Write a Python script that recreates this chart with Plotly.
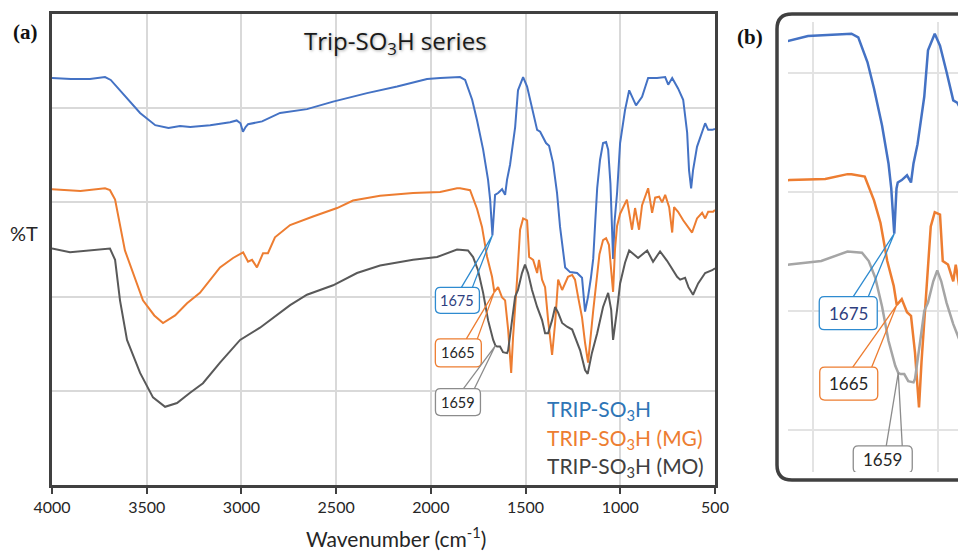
import numpy as np
import plotly.graph_objects as go

W, H = 958, 552

# ---- FTIR spectra (wavenumber in cm-1, transmittance in arbitrary offset units) ----
trip_wn = [4000, 3900, 3800, 3720, 3690, 3640, 3590, 3535, 3455, 3385, 3324, 3270, 3165, 3060,
           3025, 3005, 2992, 2978, 2965, 2891, 2796, 2654, 2516, 2337, 2178, 2020, 1951, 1862,
           1846, 1819, 1782, 1756, 1724, 1698, 1687, 1675, 1666, 1661, 1645, 1624, 1608, 1598,
           1582, 1555, 1540, 1513, 1492, 1466, 1439, 1423, 1392, 1376, 1355, 1334, 1318, 1291,
           1265, 1228, 1202, 1186, 1170, 1155, 1143, 1132, 1122, 1107, 1091, 1075, 1064, 1052,
           1043, 1038, 1030, 1017, 1001, 985, 975, 953, 938, 917, 885, 853, 806, 763,
           747, 726, 695, 668, 647, 637, 626, 616, 595, 568, 552, 536, 515, 500]
trip_t = [4.32, 4.31, 4.31, 4.33, 4.30, 4.19, 4.07, 3.95, 3.82, 3.79, 3.81, 3.80, 3.82, 3.85,
          3.87, 3.84, 3.75, 3.80, 3.83, 3.86, 3.95, 3.99, 4.07, 4.16, 4.23, 4.31, 4.32, 4.33,
          4.33, 4.30, 4.09, 3.87, 3.56, 3.24, 3.03, 2.65, 3.03, 3.08, 3.10, 3.14, 3.08, 3.24,
          3.40, 3.80, 4.19, 4.33, 4.23, 4.01, 3.77, 3.75, 3.63, 3.60, 3.42, 3.10, 2.74, 2.31,
          2.26, 2.25, 2.20, 1.84, 2.00, 2.20, 2.40, 2.80, 3.15, 3.45, 3.63, 3.64, 3.56, 3.20,
          2.70, 2.40, 2.80, 3.10, 3.63, 3.87, 3.98, 4.19, 4.12, 4.03, 4.12, 4.32, 4.32, 4.33,
          4.25, 4.32, 4.21, 4.09, 3.74, 3.34, 3.15, 3.34, 3.59, 3.75, 3.84, 3.77, 3.77, 3.78]

mg_wn = [4000, 3850, 3720, 3694, 3667, 3615, 3520, 3460, 3414, 3350, 3287, 3219, 3113, 3044,
         2991, 2965, 2944, 2918, 2886, 2860, 2823, 2743, 2622, 2495, 2411, 2268, 2094, 1951,
         1862, 1846, 1793, 1756, 1730, 1703, 1677, 1665, 1645, 1624, 1608, 1592, 1576, 1566,
         1545, 1529, 1513, 1492, 1481, 1460, 1439, 1429, 1413, 1397, 1381, 1360, 1344, 1328,
         1307, 1291, 1276, 1254, 1239, 1223, 1202, 1186, 1170, 1143, 1110, 1091, 1075, 1060,
         1048, 1038, 1028, 1017, 1001, 985, 965, 938, 922, 901, 885, 853, 832, 816,
         795, 779, 763, 742, 726, 716, 695, 668, 642, 621, 595, 568, 552, 536, 510, 500]
mg_t = [3.14, 3.12, 3.15, 3.13, 3.03, 2.49, 1.96, 1.80, 1.72, 1.80, 1.93, 2.04, 2.31, 2.41,
        2.47, 2.37, 2.39, 2.31, 2.46, 2.46, 2.63, 2.76, 2.85, 2.94, 3.02, 3.07, 3.10, 3.11,
        3.15, 3.15, 3.13, 2.93, 2.74, 2.42, 2.21, 2.05, 2.10, 1.99, 1.96, 1.65, 1.19, 1.57,
        2.18, 2.71, 2.83, 2.81, 2.42, 2.39, 2.25, 2.39, 2.18, 2.10, 1.75, 1.38, 1.72, 2.18,
        2.07, 2.14, 2.21, 2.23, 2.18, 2.00, 1.78, 1.51, 1.30, 1.85, 2.45, 2.60, 2.62, 2.55,
        2.30, 2.05, 2.50, 2.75, 2.88, 2.95, 3.03, 2.71, 2.94, 2.71, 2.97, 3.15, 2.89, 3.05,
        3.06, 3.00, 3.08, 2.95, 2.68, 2.95, 2.90, 2.81, 2.74, 2.68, 2.83, 2.89, 2.83, 2.90, 2.90, 2.92]

mo_wn = [4000, 3905, 3694, 3667, 3641, 3604, 3535, 3467, 3403, 3340, 3271, 3203, 3113, 3007,
         2902, 2833, 2743, 2654, 2516, 2390, 2268, 2094, 1967, 1862, 1804, 1777, 1751, 1724,
         1698, 1671, 1659, 1650, 1635, 1619, 1598, 1592, 1571, 1555, 1540, 1519, 1503, 1487,
         1466, 1439, 1413, 1397, 1381, 1360, 1344, 1328, 1307, 1281, 1254, 1239, 1212, 1186,
         1172, 1150, 1122, 1091, 1064, 1048, 1038, 1017, 1001, 975, 953, 906, 858, 827,
         790, 753, 721, 700, 684, 658, 640, 616, 589, 552, 515, 500]
mo_t = [2.51, 2.47, 2.51, 2.39, 1.96, 1.54, 1.19, 0.93, 0.83, 0.87, 0.98, 1.08, 1.30, 1.54,
        1.67, 1.77, 1.91, 2.02, 2.12, 2.25, 2.33, 2.39, 2.42, 2.50, 2.49, 2.42, 2.28, 2.04,
        1.75, 1.54, 1.48, 1.47, 1.47, 1.41, 1.40, 1.43, 1.75, 2.00, 2.07, 2.25, 2.34, 2.25,
        2.07, 1.89, 1.75, 1.61, 1.61, 1.75, 1.89, 1.83, 1.72, 1.68, 1.65, 1.57, 1.43, 1.22,
        1.18, 1.40, 1.61, 1.89, 2.04, 1.86, 1.54, 1.86, 2.14, 2.36, 2.49, 2.41, 2.49, 2.37,
        2.48, 2.38, 2.28, 2.21, 2.18, 2.20, 2.10, 2.02, 2.14, 2.25, 2.28, 2.30]

series_names = ["TRIP-SO<sub>3</sub>H", "TRIP-SO<sub>3</sub>H (MG)", "TRIP-SO<sub>3</sub>H (MO)"]
peak_wn = [1675, 1665, 1659]
peak_labels = ["1675", "1665", "1659"]
x_ticks = [4000, 3500, 3000, 2500, 2000, 1500, 1000, 500]

assert len(trip_wn) == len(trip_t)
assert len(mg_wn) == len(mg_t)
assert len(mo_wn) == len(mo_t)

spectra = [(trip_wn, trip_t), (mg_wn, mg_t), (mo_wn, mo_t)]

# ---- styling ----
col_a = ["#4472c4", "#ed7d31", "#595959"]
col_b = ["#4472c4", "#ed7d31", "#a5a5a5"]
legend_col = ["#2e75b6", "#ed7d31", "#404040"]
box_col = ["#2e8bd0", "#ed7d31", "#8c8c8c"]
label_col = ["#2f3f7f", "#262626", "#262626"]
frame = "#404040"
grid = "#d9d9d9"


def fx(px):
    return px / W


def fy(py):
    return 1 - py / H


fig = go.Figure()
for i, (wn, t) in enumerate(spectra):
    fig.add_trace(go.Scatter(x=wn, y=t, mode="lines", line=dict(color=col_a[i], width=2),
                             xaxis="x", yaxis="y", showlegend=False, hoverinfo="skip"))
for i, (wn, t) in enumerate(spectra):
    fig.add_trace(go.Scatter(x=wn, y=t, mode="lines", line=dict(color=col_b[i], width=2.5),
                             xaxis="x2", yaxis="y2", showlegend=False, hoverinfo="skip"))


def rounded_rect(x0, x1, y0, y1, r):
    # pixel offsets, y measured upward; x0<x1, y0<y1
    return (f"M{x0 + r},{y0} L{x1 - r},{y0} Q{x1},{y0} {x1},{y0 + r} "
            f"L{x1},{y1 - r} Q{x1},{y1} {x1 - r},{y1} L{x0 + r},{y1} "
            f"Q{x0},{y1} {x0},{y1 - r} L{x0},{y0 + r} Q{x0},{y0} {x0 + r},{y0} Z")


# callout geometry (pixels relative to the marked point; y downward): box l, r, t, b and wedge feet
callouts_a = [(-57, -13, 52, 78, -31, -20),
              (-59, -13, 47, 75, -28, -17),
              (-60, -15, 43, 70, -32, -21)]
callouts_b = [(-75, -17, 63, 96, -41, -26),
              (-77, -19, 62, 95, -44, -25),
              (-45, 14, 73, 100, -12, 4)]

shapes = []
annotations = []
for xr, yr, geo, fsize in (("x", "y", callouts_a, 14.5), ("x2", "y2", callouts_b, 17)):
    for i, (wn, t) in enumerate(spectra):
        w0 = peak_wn[i]
        t0 = float(np.interp(w0, wn[::-1], t[::-1]))
        l, r, top, bot, f1, f2 = geo[i]
        shapes.append(dict(type="path", xref=xr, yref=yr, xsizemode="pixel", ysizemode="pixel",
                           xanchor=w0, yanchor=t0,
                           path=f"M{f1},{-top} L0,0 L{f2},{-top}",
                           line=dict(color=box_col[i], width=1.3), layer="above"))
        shapes.append(dict(type="path", xref=xr, yref=yr, xsizemode="pixel", ysizemode="pixel",
                           xanchor=w0, yanchor=t0,
                           path=rounded_rect(l, r, -bot, -top, 5),
                           line=dict(color=box_col[i], width=1.3), fillcolor="white", layer="above"))
        annotations.append(dict(x=w0, y=t0, xref=xr, yref=yr, text=peak_labels[i], showarrow=False,
                                xanchor="center", yanchor="middle",
                                xshift=(l + r) / 2, yshift=-(top + bot) / 2,
                                font=dict(family="Lato", size=fsize, color=label_col[i])))

# rounded frame of panel (b)
bx0, bx1, by0, by1, rad = 777, 990, 14, 480, 15
shapes.append(dict(type="path", xref="paper", yref="paper", layer="above",
                   path=(f"M{fx(bx1)},{fy(by0)} L{fx(bx0 + rad)},{fy(by0)} "
                         f"Q{fx(bx0)},{fy(by0)} {fx(bx0)},{fy(by0 + rad)} "
                         f"L{fx(bx0)},{fy(by1 - rad)} Q{fx(bx0)},{fy(by1)} {fx(bx0 + rad)},{fy(by1)} "
                         f"L{fx(bx1)},{fy(by1)}"),
                   line=dict(color=frame, width=3.5)))


def text_at(px, py, text, font, xanchor="center"):
    return dict(x=fx(px), y=fy(py), xref="paper", yref="paper", showarrow=False,
                xanchor=xanchor, yanchor="middle", text=text, font=font)


annotations += [
    text_at(395, 42, "Trip-SO<sub>3</sub>H series",
            dict(family="Open Sans", size=24, color="#1a1a1a",
                 shadow="1px 1px 3px rgba(0,0,0,0.35)")),
    text_at(25, 32, "<b>(a)</b>", dict(family="Liberation Serif", size=21, color="#111111")),
    text_at(750, 37, "<b>(b)</b>", dict(family="Liberation Serif", size=21, color="#111111")),
    text_at(24, 233, "%T", dict(family="Lato", size=20, color="#262626")),
    text_at(396, 537, "Wavenumber (cm<sup>-1</sup>)", dict(family="Lato", size=21, color="#262626")),
]
for i, name in enumerate(series_names):
    annotations.append(text_at(545, 410 + 28.5 * i, name,
                               dict(family="Lato", size=21, color=legend_col[i]), xanchor="left"))

fig.update_layout(
    width=W, height=H, margin=dict(l=0, r=0, t=0, b=0),
    paper_bgcolor="white", plot_bgcolor="white",
    xaxis=dict(domain=[fx(52), fx(715)], range=[4000, 500], tickvals=x_ticks,
               ticks="outside", ticklen=6, tickwidth=1.5, tickcolor=frame,
               showline=True, linecolor=frame, linewidth=3, mirror=True,
               showgrid=True, gridcolor=grid, gridwidth=1.5, zeroline=False,
               tickfont=dict(family="Lato", size=16, color="#262626"),
               ticklabelstandoff=0, anchor="y", automargin=False),
    yaxis=dict(domain=[fy(485), fy(14)], range=[0, 5], tickvals=[1, 2, 3, 4],
               showticklabels=False, ticks="", showline=True, linecolor=frame, linewidth=3,
               mirror=True, showgrid=True, gridcolor=grid, gridwidth=1.5, zeroline=False,
               anchor="x", automargin=False),
    xaxis2=dict(domain=[fx(788), 1.0], range=[2100, 1420], tickvals=[2000, 1500],
                showticklabels=False, ticks="", showline=False, showgrid=True,
                gridcolor="#e3e3e3", gridwidth=1.5, zeroline=False, anchor="y2", automargin=False),
    yaxis2=dict(domain=[fy(472), fy(22)], range=[3 - 280 / 119, 3 + 170 / 119],
                tickvals=[1, 2, 3, 4], showticklabels=False, ticks="", showline=False,
                showgrid=True, gridcolor="#e3e3e3", gridwidth=1.5, zeroline=False,
                anchor="x2", automargin=False),
    shapes=shapes, annotations=annotations, showlegend=False,
)

fig.write_html("out.html")
